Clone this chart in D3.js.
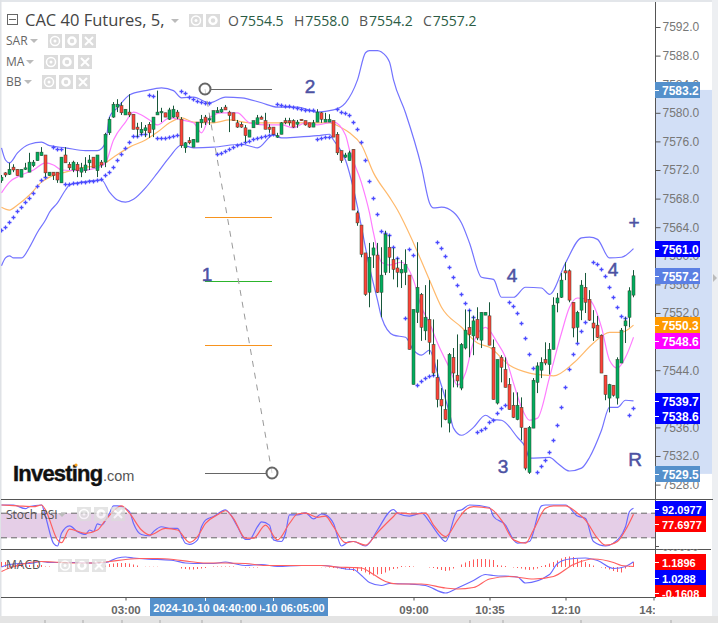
<!DOCTYPE html>
<html>
<head>
<meta charset="utf-8">
<script src="https://cdn.jsdelivr.net/npm/d3@7"></script>
<style>
html, body { margin: 0; padding: 0; background: #fff; overflow: hidden; }
svg { display: block; }
</style>
</head>
<body>
<svg id="visualisation" width="718" height="623"></svg>
<script>
// candles, 5 minute bars, index 0 is 00:25
var opens = [7570.5,7571.6,7571.4,7572.4,7572.1,7571.0,7572.1,7571.7,7572.6,7573.3,
7574.0,7574.1,7571.2,7571.7,7571.7,7570.2,7574.1,7572.8,7572.0,7572.8,
7571.7,7571.9,7573.0,7573.8,7571.9,7573.1,7573.1,7577.2,7579.4,7580.8,
7581.0,7579.7,7580.1,7579.8,7578.0,7577.2,7577.5,7578.4,7577.7,7579.7,
7580.0,7580.0,7579.1,7579.4,7580.1,7579.1,7575.1,7576.1,7575.2,7575.9,
7578.6,7579.4,7579.1,7578.7,7580.0,7580.1,7580.8,7580.1,7580.0,7578.6,
7578.4,7577.9,7576.6,7577.9,7578.4,7579.4,7578.9,7578.0,7578.0,7576.7,
7577.0,7578.9,7578.9,7578.9,7578.4,7579.1,7578.9,7578.6,7578.0,7578.7,
7580.0,7578.7,7578.7,7578.9,7577.0,7574.7,7573.8,7573.3,7574.9,7566.0,
7564.3,7560.4,7554.9,7560.1,7560.1,7554.9,7557.7,7561.2,7559.5,7558.3,
7557.6,7557.7,7557.3,7542.0,7552.1,7554.6,7549.5,7551.1,7547.6,7543.0,
7539.9,7538.5,7536.6,7545.8,7543.3,7541.5,7547.1,7550.0,7548.8,7551.1,
7548.2,7551.7,7551.6,7547.2,7539.4,7545.8,7544.1,7542.0,7539.1,7537.1,
7538.8,7535.9,7529.7,7535.9,7542.3,7544.0,7545.5,7544.8,7546.9,7553.4,
7554.2,7557.9,7557.9,7553.5,7550.0,7552.4,7555.6,7553.9,7550.6,7550.3,
7548.9,7543.3,7540.1,7541.9,7540.1,7545.0,7550.2,7551.4,7554.5];
var highs = [7571.3,7571.7,7573.0,7572.8,7572.1,7572.1,7573.0,7574.4,7573.4,7574.5,
7575.2,7574.1,7571.7,7571.7,7571.7,7573.8,7575.2,7573.1,7573.3,7573.1,
7573.0,7573.8,7574.1,7573.8,7574.1,7573.4,7577.2,7579.4,7581.5,7581.9,
7581.5,7580.5,7582.6,7579.8,7578.6,7578.7,7578.3,7578.7,7579.4,7583.1,
7580.7,7580.0,7580.7,7581.0,7580.4,7579.4,7575.9,7576.6,7576.3,7578.7,
7579.7,7579.7,7579.7,7580.3,7580.8,7580.8,7581.1,7580.3,7580.0,7579.0,
7578.7,7578.3,7577.6,7578.9,7579.7,7579.6,7580.0,7578.4,7578.0,7577.2,
7578.7,7579.3,7579.3,7579.1,7579.0,7579.1,7578.9,7578.6,7579.0,7580.5,
7580.1,7580.0,7579.8,7578.9,7577.3,7574.7,7574.4,7574.7,7574.9,7566.3,
7564.3,7560.4,7561.8,7561.9,7561.8,7561.2,7563.5,7562.9,7561.1,7559.7,
7559.4,7560.9,7557.3,7552.5,7561.9,7554.8,7555.9,7556.6,7551.1,7545.5,
7541.5,7541.3,7546.4,7547.1,7549.0,7547.8,7552.5,7552.4,7551.6,7552.8,
7552.1,7552.1,7553.5,7548.3,7545.5,7546.1,7545.8,7542.9,7540.9,7540.9,
7540.2,7535.9,7536.2,7542.9,7545.1,7545.8,7547.9,7547.8,7554.2,7554.8,
7557.6,7559.1,7558.1,7553.5,7552.3,7556.6,7557.6,7555.2,7552.4,7551.6,
7549.0,7543.3,7542.1,7541.9,7545.8,7549.9,7551.4,7555.6,7558.0];
var lows = [7570.2,7571.0,7571.3,7571.7,7571.2,7571.0,7572.0,7571.7,7572.4,7573.3,
7574.0,7571.0,7571.2,7570.6,7570.2,7570.2,7573.0,7572.0,7571.7,7571.0,
7571.0,7571.6,7572.0,7572.3,7571.0,7572.3,7572.4,7576.9,7579.3,7580.1,
7579.7,7579.7,7579.4,7577.7,7576.6,7576.9,7576.6,7576.5,7576.6,7579.7,
7578.7,7579.4,7579.0,7579.3,7579.1,7575.1,7574.4,7575.6,7575.2,7575.9,
7577.9,7578.3,7578.3,7578.7,7580.0,7580.0,7580.4,7577.3,7578.9,7577.9,
7577.9,7575.9,7576.6,7577.9,7578.4,7579.1,7577.7,7577.2,7577.0,7576.5,
7577.0,7578.4,7578.2,7577.9,7577.9,7578.9,7578.2,7577.9,7578.0,7578.7,
7578.6,7578.7,7578.7,7576.6,7574.1,7573.0,7573.7,7573.3,7566.4,7564.2,
7559.8,7554.4,7552.8,7558.3,7554.8,7551.4,7557.3,7557.6,7556.7,7555.6,
7555.5,7555.9,7546.9,7542.0,7550.6,7548.1,7548.2,7546.2,7543.2,7538.8,
7536.0,7537.0,7535.3,7541.6,7541.6,7541.2,7546.9,7545.8,7546.1,7548.2,
7547.1,7551.7,7547.5,7539.9,7539.2,7542.3,7541.6,7538.5,7537.3,7537.0,
7534.2,7530.0,7529.5,7535.9,7540.8,7542.9,7544.7,7543.4,7546.9,7552.1,
7554.1,7556.6,7553.5,7548.6,7547.9,7551.0,7552.0,7550.9,7548.1,7548.5,
7543.6,7539.8,7538.1,7540.3,7539.2,7545.0,7547.8,7550.0,7554.2];
var closes = [7571.0,7571.3,7572.1,7572.0,7571.2,7572.1,7572.3,7573.1,7573.1,7574.5,
7574.5,7571.6,7571.7,7571.2,7570.6,7573.8,7573.0,7572.3,7573.1,7571.9,
7572.3,7572.7,7573.4,7572.3,7574.1,7572.7,7577.0,7579.1,7581.2,7581.2,
7580.0,7580.5,7579.7,7577.7,7577.7,7577.7,7577.9,7577.2,7579.4,7580.1,
7580.2,7579.4,7580.4,7580.5,7579.4,7575.4,7575.8,7575.8,7576.3,7578.7,
7579.1,7578.7,7579.2,7580.3,7580.3,7580.5,7580.4,7579.6,7578.9,7578.0,
7578.0,7576.8,7577.6,7578.9,7579.3,7579.1,7577.7,7577.7,7577.0,7576.8,
7578.6,7578.6,7578.6,7578.0,7578.7,7578.9,7578.3,7578.0,7578.6,7580.1,
7579.1,7579.1,7579.1,7576.6,7574.4,7573.3,7574.1,7574.4,7566.4,7564.6,
7560.2,7554.6,7559.8,7561.1,7554.9,7557.3,7563.0,7559.8,7558.1,7557.7,
7558.1,7558.8,7546.9,7552.5,7555.6,7550.0,7551.4,7547.9,7543.6,7539.9,
7539.0,7537.1,7546.2,7543.6,7542.5,7547.6,7549.6,7549.0,7550.9,7548.5,
7552.1,7552.1,7547.5,7539.9,7545.5,7544.4,7541.6,7538.5,7537.4,7539.1,
7536.0,7530.3,7536.0,7542.6,7544.6,7545.1,7545.0,7546.9,7553.1,7554.1,
7556.6,7557.6,7553.8,7549.9,7552.1,7555.9,7553.5,7551.0,7549.9,7548.6,
7543.6,7540.6,7542.0,7540.5,7545.5,7549.6,7550.9,7555.1,7557.2];

// parabolic SAR, one per candle, null where nothing is shown
var sar = [7563.6,7564.0,7564.7,7565.4,7566.3,7566.8,7567.5,7568.1,7568.8,7569.8,
7570.6,7571.0,null,7575.2,7574.9,7574.9,7570.0,7570.0,7570.2,7570.2,
7570.3,7570.3,7570.5,7570.5,7570.6,7570.7,7571.3,7571.7,7572.4,7573.4,
7574.2,7575.1,7575.9,7576.8,7576.8,7577.0,7577.0,7582.5,7582.4,7576.5,
7576.5,7576.5,7576.6,7576.8,7576.9,7583.1,7582.8,7582.2,7581.9,7581.7,
7581.5,7581.4,7581.4,null,7574.2,7574.4,7574.7,7574.9,7575.2,7575.5,
7575.6,7575.9,7576.1,7576.3,7576.5,7576.6,7576.8,7576.9,7577.0,7581.2,
7581.1,7581.0,7581.0,7580.8,7580.7,7580.5,7580.4,7580.4,7580.4,7576.3,
7576.5,7576.6,7576.6,null,7580.5,7580.1,7580.0,7579.7,7578.7,7577.7,
7575.9,7573.4,7570.5,7568.1,7565.8,7563.5,7563.2,7562.9,7561.2,7559.7,
null,7551.3,7560.9,7560.1,7542.0,7542.5,7542.9,7543.2,7543.3,7561.9,
7561.1,7560.0,7558.4,7557.0,7555.9,7554.6,7553.4,7552.4,7551.4,7535.3,
7535.6,7535.9,7536.7,7537.1,7538.0,7538.7,7539.2,7553.5,7553.0,7552.0,
7550.6,7548.5,7546.2,7544.3,7529.7,7530.6,7531.5,7532.5,7534.2,7536.3,
7538.8,7541.6,7544.1,7546.2,7547.8,7549.5,7550.7,null,7559.1,7558.8,
7558.1,7557.2,7555.6,7554.2,7552.8,7551.6,7551.3,7537.8,7538.7];

// bollinger bands and moving averages, read at the candle indexes next to them
var bbUpperIdx = [0,1,2,4,7,10,12,16,21,24,26,27,29,32,36,40,43,45,48,52,56,60,65,69,74,79,83,86,89,91,92,94,95,97,98,101,105,107,108,110,113,115,117,120,123,125,128,131,135,137,141,145,147,149,152,155,158];
var bbUpper = [7575.1,7573.4,7573.0,7574.4,7575.6,7575.9,7575.4,7575.1,7574.7,7574.7,7575.8,7579.4,7580.7,7582.5,7583.1,7583.5,7583.1,7582.1,7582.2,7581.4,7582.2,7582.1,7581.4,7580.8,7580.8,7580.1,7580.4,7581.4,7584.6,7588.4,7588.7,7588.7,7588.5,7587.1,7584.6,7580.0,7572.4,7567.4,7566.7,7566.8,7566.1,7564.6,7561.8,7557.0,7556.7,7554.2,7554.2,7555.6,7555.5,7554.6,7559.0,7562.5,7562.6,7562.3,7559.7,7559.8,7561.0];
var bbLowerIdx = [0,1,2,3,5,7,9,11,12,14,16,17,20,25,27,29,31,33,36,39,42,45,48,53,60,64,68,70,74,79,82,83,86,89,90,92,94,95,98,101,103,105,107,109,112,113,115,118,121,123,125,129,131,132,137,139,142,145,147,150,152,154,156,158];
var bbLower = [7558.6,7559.7,7560.0,7559.7,7559.7,7561.2,7563.3,7565.0,7566.1,7567.4,7569.2,7569.9,7570.3,7570.6,7568.9,7567.8,7567.5,7567.9,7569.5,7571.6,7573.8,7575.5,7575.1,7575.2,7575.6,7575.1,7576.9,7576.5,7576.6,7576.8,7577.0,7576.2,7573.4,7566.8,7564.0,7558.4,7553.8,7551.4,7548.9,7548.6,7546.8,7546.1,7546.8,7543.6,7538.0,7535.9,7534.9,7536.0,7537.7,7537.1,7537.0,7534.6,7533.2,7531.7,7531.8,7531.0,7529.9,7530.3,7531.8,7535.6,7538.8,7538.8,7539.8,7539.7];
var maFastIdx = [0,2,5,8,11,13,15,19,24,26,28,31,33,35,37,39,42,45,48,50,52,55,59,62,66,70,73,76,79,83,86,87,90,92,93,95,97,100,103,105,107,109,112,114,116,118,121,124,126,128,130,132,134,137,140,142,144,147,150,152,154,156,158];
var maFast = [7568.8,7570.3,7571.3,7572.0,7573.0,7572.7,7572.0,7571.9,7572.3,7573.0,7576.2,7578.7,7580.1,7579.7,7579.0,7578.3,7579.3,7579.0,7578.6,7577.2,7579.3,7580.0,7580.0,7578.6,7578.3,7578.3,7577.9,7578.6,7578.3,7578.7,7576.9,7574.8,7570.2,7566.0,7563.2,7559.1,7558.7,7559.1,7556.6,7552.8,7550.6,7547.8,7544.3,7541.9,7543.6,7547.9,7550.0,7547.8,7545.8,7542.2,7538.8,7537.0,7537.3,7543.0,7549.2,7552.8,7554.1,7553.8,7550.0,7545.4,7544.3,7545.8,7548.6];
var maSlowIdx = [0,2,4,7,10,12,16,20,25,28,32,36,39,42,45,48,53,57,62,70,77,82,85,87,90,93,97,99,103,107,110,115,119,122,127,132,136,138,143,148,152,155,158];
var maSlow = [7566.8,7566.4,7567.1,7568.5,7570.3,7571.0,7571.7,7572.3,7572.7,7573.8,7575.2,7576.2,7577.3,7578.6,7579.3,7578.7,7578.6,7579.0,7578.6,7578.6,7578.6,7578.6,7577.9,7577.2,7575.5,7571.6,7568.2,7566.4,7561.8,7556.6,7552.8,7550.0,7547.8,7547.2,7544.7,7543.6,7543.3,7543.2,7545.0,7547.8,7549.3,7549.3,7550.3];

// stoch rsi
var stochKIdx = [0,3,6,7,10,11,13,14,15,17,19,21,22,23,24,25,27,28,29,32,33,35,37,38,40,42,44,46,47,49,50,51,53,56,57,59,61,62,64,65,67,68,70,71,72,74,76,78,80,81,83,85,87,88,91,92,94,98,99,102,105,107,109,111,114,115,117,122,123,126,128,129,132,135,136,141,144,146,148,151,153,156,157,158];
var stochK = [100,100,91,96,100,72,6.5,0,31,49,35,28,39,35,54,51,80,98,98,84,55,28,25,35,47,43,43,6.5,4,15,47,63,72,88,80,47,16,16,47,59,51,15,11,31,76,76,81,66,78,76,55,0,11,11,0,8,39,89,80,73,80,59,31,11,86,88,100,94,72,51,15,7,11,98,100,100,73,67,11,0,7,47,84,92.1];
var stochDIdx = [0,4,8,10,11,14,15,17,21,24,26,30,32,35,37,41,44,47,49,51,54,56,58,61,63,66,69,72,74,76,79,81,83,86,88,91,94,98,99,103,106,108,111,114,116,118,122,125,128,131,133,136,138,141,144,146,149,151,154,156,158];
var stochD = [100,98,96,100,88,15,8,41,31,39,63,98,80,39,27,43,39,9,23,55,76,86,67,19,19,51,15,55,78,80,70,73,47,8,11,2,33,72,81,78,80,51,23,63,88,96,92,63,15,7,39,92,98,98,80,63,19,2,11,39,77.7];

// macd
var macdIdx = [0,2,5,7,10,12,15,18,22,26,29,31,33,36,39,43,46,50,53,56,58,61,65,69,75,80,83,86,88,90,92,95,97,102,106,111,114,118,121,123,129,131,137,139,142,146,149,153,156,158];
var macdLine = [0,0.5,0.7,0.7,1.1,0.9,0.9,0.9,0.8,0.9,1.8,2,1.8,1.6,1.5,1.3,0.8,0.7,0.7,1,0.7,0.3,0.5,0.1,0.3,0.3,0.1,-0.4,-0.5,-1.7,-3.1,-3.7,-3.3,-3.4,-3.7,-5.2,-4.2,-2.7,-1.5,-1.7,-2,-3.2,-1.5,0.7,1.6,1.8,1.3,-0.3,0.1,1.03];
var signalIdx = [0,2,5,7,10,13,18,23,27,31,35,39,43,47,51,56,61,66,72,80,84,88,90,93,96,99,105,111,114,118,122,127,133,138,143,148,153,155,158];
var signalLine = [-0.9,-0.2,0.5,0.9,1.1,1,0.8,0.8,1.1,1.5,1.7,1.7,1.5,1.1,0.8,0.8,0.7,0.3,0.3,0.3,0,-0.1,-0.2,-1.5,-2.9,-3.4,-3.4,-4.2,-4.4,-4.1,-2.4,-1.9,-2.4,-1.9,0.5,1.6,0.9,0.3,0.1];
var macdHist = [1,1,0.9,0.8,0.7,0.6,0.5,0.4,0.4,0.4,
0.4,0.1,0.1,0,0,0,0,0,0,0,
0,0,0,0,0,0,0.3,0.6,0.7,0.8,
0.8,0.8,0.7,0.5,0.3,0,0.05,0.05,0.05,0.05,
0,0,0,0,0,-0.3,-0.4,-0.5,-0.5,-0.4,
-0.3,-0.2,0,0.1,0.1,0.1,0.1,0.1,0.1,0,
0,-0.1,-0.1,-0.1,-0.1,0,0,0,0,0,
0,0,0,0,0,0,0,0,0,0,
-0.05,-0.05,-0.1,-0.2,-0.3,-0.4,-0.5,-0.6,-0.8,-0.8,
-0.8,-1.1,-1.5,-1.7,-1.5,-1.4,-1.1,-0.7,-0.4,-0.3,
0.2,0.1,0.2,0.1,0,0,0,-0.1,-0.2,-0.4,
-0.6,-0.8,-0.7,-0.3,0,0.5,0.9,1.2,1.5,1.6,
1.6,1.6,1.5,1.4,0.4,0.3,0.2,0,-0.1,-0.2,
-0.3,-0.5,-0.6,-0.5,-0.3,0.2,0.4,0.7,1,1.3,
1.7,2,2.1,2,1.7,1.4,1,0.6,0.3,0,
-0.1,-0.3,-0.5,-0.8,-1,-1.1,-0.3,0.2,1];

// axis ticks and price tags
var priceTicks = [7592,7588,7584,7580,7576,7572,7568,7564,7560,7556,7552,7548,7544,7540,7536,7532,7528];
var timeTickIdx = [31,103,122,141,163];
var timeTickLabels = ['03:00','09:00','10:35','12:10','14:00'];
var priceTags = [7583.2,7561.0,7557.2,7550.3,7548.6,7539.7,7538.6,7529.5];
var priceTagColors = ['#5490cb','#0000ff','#5b7fe3','#ff9900','#ff00ff','#0000ff','#0000ff','#5490cb'];
var legendValues = [['O','7554.5'],['H','7558.0'],['B','7554.2'],['C','7557.2']];

var BLUE = '#7373ff', PINK = '#ff7cff', ORANGE = '#ffb96b', WICK = '#17573a';
var UI_FONT = '"Open Sans", sans-serif', AXIS_FONT = '"Liberation Sans", Arial, sans-serif';

var vis = d3.select('#visualisation');

var xScale = d3.scaleLinear().domain([0, 158]).range([1.5, 633.5]);
var yPrice = d3.scaleLinear().domain([7592, 7528]).range([27, 484.6]);
var yStoch = d3.scaleLinear().domain([0, 100]).range([546, 505]);
var yMacd = d3.scaleLinear().domain([0, 1]).range([567, 562]);

var defs = vis.append('defs');
defs.append('clipPath').attr('id', 'clipMain').append('rect').attr('x', 1).attr('y', 0).attr('width', 654).attr('height', 499);
defs.append('clipPath').attr('id', 'clipStoch').append('rect').attr('x', 1).attr('y', 499).attr('width', 654).attr('height', 50);
defs.append('clipPath').attr('id', 'clipMacd').append('rect').attr('x', 1).attr('y', 549).attr('width', 654).attr('height', 48);
defs.append('clipPath').attr('id', 'clipTime').append('rect').attr('x', 0).attr('y', 597).attr('width', 655).attr('height', 20);
defs.append('clipPath').attr('id', 'clipMacdTags').append('rect').attr('x', 655).attr('y', 549).attr('width', 63).attr('height', 48);

// page frame
vis.append('rect').attr('width', 718).attr('height', 623).attr('fill', '#fff');
vis.append('rect').attr('width', 718).attr('height', 2).attr('fill', '#e3e6ea');
vis.append('rect').attr('width', 1.5).attr('height', 623).attr('fill', '#dfe2e6');
vis.append('rect').attr('x', 712).attr('width', 6).attr('height', 623).attr('fill', '#edeff2');
vis.append('rect').attr('y', 616).attr('width', 718).attr('height', 7).attr('fill', '#e4e4e4');
[45, 83, 122, 160, 202, 241, 470, 503, 581, 671].forEach(function(px){
    vis.append('line').attr('x1', px).attr('x2', px).attr('y1', 620).attr('y2', 623).attr('stroke', '#aaa');
});

// shaded price range behind the axis
vis.append('rect').attr('x', 655).attr('width', 57)
    .attr('y', yPrice(7583.2)).attr('height', yPrice(7529.5) - yPrice(7583.2)).attr('fill', '#d2dff6');

// main panel
var main = vis.append('g').attr('clip-path', 'url(#clipMain)');

function lineFrom(idx, values, yScale){
    var rows = idx.map(function(d, i){ return {i: d, v: values[i]}; });
    return d3.line().x(function(d){ return xScale(d.i); }).y(function(d){ return yScale(d.v); }).curve(d3.curveMonotoneX)(rows);
}

function addLine(parent, idx, values, yScale, color){
    parent.append('path').attr('d', lineFrom(idx, values, yScale))
        .attr('fill', 'none').attr('stroke', color).attr('stroke-width', 1.2);
}

addLine(main, bbUpperIdx, bbUpper, yPrice, BLUE);
addLine(main, bbLowerIdx, bbLower, yPrice, BLUE);
addLine(main, maSlowIdx, maSlow, yPrice, ORANGE);
addLine(main, maFastIdx, maFast, yPrice, PINK);

// sar crosses
sar.forEach(function(v, i){
    if (v === null) return;
    main.append('path').attr('transform', 'translate(' + xScale(i) + ',' + Math.round(yPrice(v)) + '.5)')
        .attr('d', 'M-2,0H2M0,-2V2').attr('stroke', '#4a4aff').attr('stroke-width', 1.3).attr('fill', 'none');
});

// candles
var candles = opens.map(function(o, i){ return {i: i, o: o, h: highs[i], l: lows[i], c: closes[i]}; });
main.selectAll('line.wick').data(candles).enter().append('line').attr('class', 'wick')
    .attr('x1', function(d){ return xScale(d.i); }).attr('x2', function(d){ return xScale(d.i); })
    .attr('y1', function(d){ return yPrice(d.h); }).attr('y2', function(d){ return yPrice(d.l); })
    .attr('stroke', WICK).attr('stroke-width', 1);
main.selectAll('rect.body').data(candles).enter().append('rect').attr('class', 'body')
    .attr('x', function(d){ return xScale(d.i) - 1.5; }).attr('width', 3)
    .attr('y', function(d){ return yPrice(Math.max(d.o, d.c)); })
    .attr('height', function(d){ return Math.max(1.5, Math.abs(yPrice(d.o) - yPrice(d.c))); })
    .attr('fill', function(d){ return d.c >= d.o ? '#00ad5e' : '#ff4238'; })
    .attr('stroke', '#30442f').attr('stroke-width', 0.5);

// hand drawn fibonacci tool
var fibLevels = [{y: 217, c: '#f7931e'}, {y: 281, c: '#2cb52c'}, {y: 345, c: '#f7931e'}];
fibLevels.forEach(function(f){
    vis.append('line').attr('x1', 205).attr('x2', 272).attr('y1', f.y + 0.5).attr('y2', f.y + 0.5).attr('stroke', f.c);
});
vis.append('line').attr('x1', 205).attr('y1', 89).attr('x2', 272).attr('y2', 473)
    .attr('stroke', '#999').attr('stroke-width', 1).attr('stroke-dasharray', '6,6');
vis.append('line').attr('x1', 211).attr('x2', 272).attr('y1', 89.5).attr('y2', 89.5).attr('stroke', '#666');
vis.append('line').attr('x1', 205).attr('x2', 266).attr('y1', 473.5).attr('y2', 473.5).attr('stroke', '#666');
vis.append('circle').attr('cx', 205).attr('cy', 89).attr('r', 5.5).attr('fill', '#fff').attr('fill-opacity', 0.6).attr('stroke', '#666').attr('stroke-width', 2);
vis.append('circle').attr('cx', 272).attr('cy', 473).attr('r', 5.5).attr('fill', '#fff').attr('fill-opacity', 0.6).attr('stroke', '#666').attr('stroke-width', 2);

var waveLabels = [['1', 207, 281], ['2', 310, 93], ['3', 503, 473], ['4', 512, 282], ['4', 613, 276], ['+', 634, 229], ['R', 635, 466]];
waveLabels.forEach(function(w){
    vis.append('text').attr('x', w[1]).attr('y', w[2]).attr('text-anchor', 'middle')
        .style('font', '19px ' + AXIS_FONT).attr('fill', '#4d52a3')
        .attr('stroke', '#4d52a3').attr('stroke-width', 0.5).text(w[0]);
});

// investing logo
vis.append('text').attr('x', 13).attr('y', 481).style('font', 'bold 22px ' + AXIS_FONT).style('letter-spacing', '-0.8px')
    .attr('fill', '#111').attr('stroke', '#111').attr('stroke-width', 0.4).text('Investing');
vis.append('text').attr('x', 103).attr('y', 481).style('font', '14.5px ' + AXIS_FONT).attr('fill', '#555').text('.com');
vis.append('circle').attr('cx', 76).attr('cy', 465).attr('r', 1.6).attr('fill', '#f9a11b');

// header
function caret(x, y){
    vis.append('path').attr('d', 'M' + x + ',' + y + 'h8l-4,4z').attr('fill', '#bbb');
}
function iconBox(x, y, w, h, kind, opacity){
    var g = vis.append('g').attr('opacity', opacity);
    g.append('rect').attr('x', x).attr('y', y).attr('width', w).attr('height', h).attr('fill', '#dcdcdc');
    var cx = x + w / 2, cy = y + h / 2;
    if (kind === 'x'){
        g.append('path').attr('d', 'M' + (cx - 4) + ',' + (cy - 4) + 'l8,8M' + (cx + 4) + ',' + (cy - 4) + 'l-8,8')
            .attr('stroke', '#fff').attr('stroke-width', 2);
    } else if (kind === 'eye'){
        g.append('circle').attr('cx', cx).attr('cy', cy).attr('r', 4.5).attr('fill', 'none').attr('stroke', '#fff').attr('stroke-width', 1.5);
        g.append('circle').attr('cx', cx).attr('cy', cy).attr('r', 1.5).attr('fill', '#fff');
    } else {
        g.append('circle').attr('cx', cx).attr('cy', cy).attr('r', 3.5).attr('fill', 'none').attr('stroke', '#fff').attr('stroke-width', 2.5);
    }
}
function rowIcons(xs, y, h, opacity){
    var kinds = ['eye', 'gear', 'x'];
    xs.forEach(function(x, i){ iconBox(x, y, 14, h, kinds[i], opacity); });
}

vis.append('rect').attr('x', 7.5).attr('y', 14.5).attr('width', 10).attr('height', 10).attr('fill', 'none').attr('stroke', '#666');
vis.append('line').attr('x1', 9).attr('x2', 16).attr('y1', 19.5).attr('y2', 19.5).attr('stroke', '#666');
vis.append('text').attr('x', 25).attr('y', 26).style('font', '16.5px ' + UI_FONT).attr('fill', '#444').text('CAC 40 Futures, 5,');
caret(171, 19);
rowIcons([189, 206], 14, 13, 1);

var legendX = [228, 294, 359, 423];
legendValues.forEach(function(d, i){
    var t = vis.append('text').attr('x', legendX[i]).attr('y', 26).style('font', '14px ' + UI_FONT);
    t.append('tspan').attr('fill', '#555').text(d[0]);
    t.append('tspan').attr('fill', '#2b5c45').attr('dx', 1).text(d[1]);
});

var smallLabels = [['SAR', 45, 32, [48, 65, 82], 34], ['MA', 66, 28, [44, 60, 78], 55], ['BB', 86, 26, [42, 59, 76], 75]];
smallLabels.forEach(function(s){
    vis.append('text').attr('x', 6).attr('y', s[1]).style('font', '12px ' + UI_FONT).attr('fill', '#666').text(s[0]);
    caret(s[2] - 2, s[1] - 6);
    rowIcons(s[3], s[4], 14, 1);
});

// stoch rsi panel
var stochPanel = vis.append('g').attr('clip-path', 'url(#clipStoch)');
stochPanel.append('rect').attr('x', 1).attr('width', 654).attr('y', yStoch(80)).attr('height', yStoch(20) - yStoch(80)).attr('fill', '#e5cee7');
[80, 20].forEach(function(v){
    stochPanel.append('line').attr('x1', 1).attr('x2', 655).attr('y1', yStoch(v)).attr('y2', yStoch(v))
        .attr('stroke', '#666').attr('stroke-dasharray', '6,4');
});
addLine(stochPanel, stochKIdx, stochK, yStoch, '#6a6aff');
addLine(stochPanel, stochDIdx, stochD, yStoch, '#ff5f5f');
vis.append('text').attr('x', 6).attr('y', 519).style('font', '12px ' + UI_FONT).attr('fill', '#555').text('Stoch RSI');
caret(58, 513);
rowIcons([77, 94, 111], 507, 14, 0.75);

// macd panel
var macdPanel = vis.append('g').attr('clip-path', 'url(#clipMacd)');
macdPanel.selectAll('line.hist').data(macdHist).enter().append('line').attr('class', 'hist')
    .attr('x1', function(d, i){ return xScale(i); }).attr('x2', function(d, i){ return xScale(i); })
    .attr('y1', yMacd(0)).attr('y2', function(d){ return yMacd(d); })
    .attr('stroke', '#ff5a5a').attr('stroke-width', 1);
addLine(macdPanel, macdIdx, macdLine, yMacd, '#6a6aff');
addLine(macdPanel, signalIdx, signalLine, yMacd, '#ff5f5f');
vis.append('text').attr('x', 6).attr('y', 569).style('font', '12px ' + UI_FONT).attr('fill', '#555').text('MACD');
rowIcons([58, 75, 92], 559, 13, 0.75);

// panel frame
[[499.5, 713], [549.5, 711], [597.5, 656]].forEach(function(r){
    vis.append('line').attr('x1', 1).attr('x2', r[1]).attr('y1', r[0]).attr('y2', r[0]).attr('stroke', '#555');
});
vis.append('line').attr('x1', 655.5).attr('x2', 655.5).attr('y1', 2).attr('y2', 597).attr('stroke', '#555');

// price axis
var priceAxis = d3.axisRight(yPrice).tickValues(priceTicks).tickSize(5).tickPadding(2).tickFormat(d3.format('.1f'));
var priceG = vis.append('g').attr('transform', 'translate(655.5,0)').call(priceAxis);
priceG.select('.domain').remove();
priceG.selectAll('line').attr('stroke', '#555');
priceG.selectAll('text').style('font', '12px ' + AXIS_FONT).attr('fill', '#777');

// time axis, clipped on an outer group so the clip stays in page coordinates
var xTime = d3.scaleLinear().domain([0, 158]).range([1, 633]);
var timeAxis = d3.axisBottom(xTime).tickValues(timeTickIdx).tickSize(3).tickPadding(5)
    .tickFormat(function(d, i){ return timeTickLabels[i]; });
var timeG = vis.append('g').attr('clip-path', 'url(#clipTime)')
    .append('g').attr('transform', 'translate(0.5,597.5)').call(timeAxis);
timeG.select('.domain').remove();
timeG.selectAll('line').attr('stroke', '#555');
timeG.selectAll('text').style('font', 'bold 11.5px ' + AXIS_FONT).attr('fill', '#666');

// crosshair date tags, the later one sits under the earlier one
function dateTag(idx, label){
    var cx = xTime(idx);
    vis.append('rect').attr('x', cx - 55).attr('y', 598).attr('width', 110).attr('height', 18).attr('fill', '#5490cb');
    vis.append('line').attr('x1', cx + 0.5).attr('x2', cx + 0.5).attr('y1', 598).attr('y2', 601).attr('stroke', '#fff');
    vis.append('text').attr('x', cx).attr('y', 612).attr('text-anchor', 'middle')
        .style('font', 'bold 11px ' + AXIS_FONT).attr('fill', '#fff').text(label);
}
dateTag(68, '2024-10-10 06:05:00');
dateTag(51, '2024-10-10 04:40:00');

// value tags
function valueTag(parent, y, w, label, color, size){
    parent.append('rect').attr('x', 655).attr('y', y - 8).attr('width', w).attr('height', 16).attr('fill', color);
    parent.append('line').attr('x1', 655).attr('x2', 659).attr('y1', y + 0.5).attr('y2', y + 0.5).attr('stroke', '#fff');
    parent.append('text').attr('x', 662).attr('y', y + 4.5).style('font', 'bold ' + size + 'px ' + AXIS_FONT).attr('fill', '#fff').text(label);
}
// the chart pushes tags apart when they would collide
var tagNudge = [0, 0, 0, 0, 4, 0, 7, 0];
priceTags.forEach(function(p, i){
    valueTag(vis, Math.round(yPrice(p)) + tagNudge[i], 45, p.toFixed(1), priceTagColors[i], 12);
});

valueTag(vis, 509, 51, '92.0977', '#0000ff', 11);
valueTag(vis, 524, 51, '77.6977', '#ff0000', 11);
vis.append('line').attr('x1', 655).attr('x2', 659).attr('y1', 546.5).attr('y2', 546.5).attr('stroke', '#555');
vis.append('text').attr('x', 662).attr('y', 551).attr('clip-path', 'url(#clipMacdTags)').style('font', '12px ' + AXIS_FONT).attr('fill', '#888').text('0.0000');
var macdTags = vis.append('g').attr('clip-path', 'url(#clipMacdTags)');
valueTag(macdTags, 562, 51, '1.1896', '#ff0000', 11);
valueTag(macdTags, 578, 51, '1.0288', '#0000ff', 11);
valueTag(macdTags, 593, 51, '-0.1608', '#ff0000', 11);

// collapse arrow on the right edge
vis.append('path').attr('d', 'M713,274l4,4l-4,4z').attr('fill', '#bbb');
</script>
</body>
</html>
